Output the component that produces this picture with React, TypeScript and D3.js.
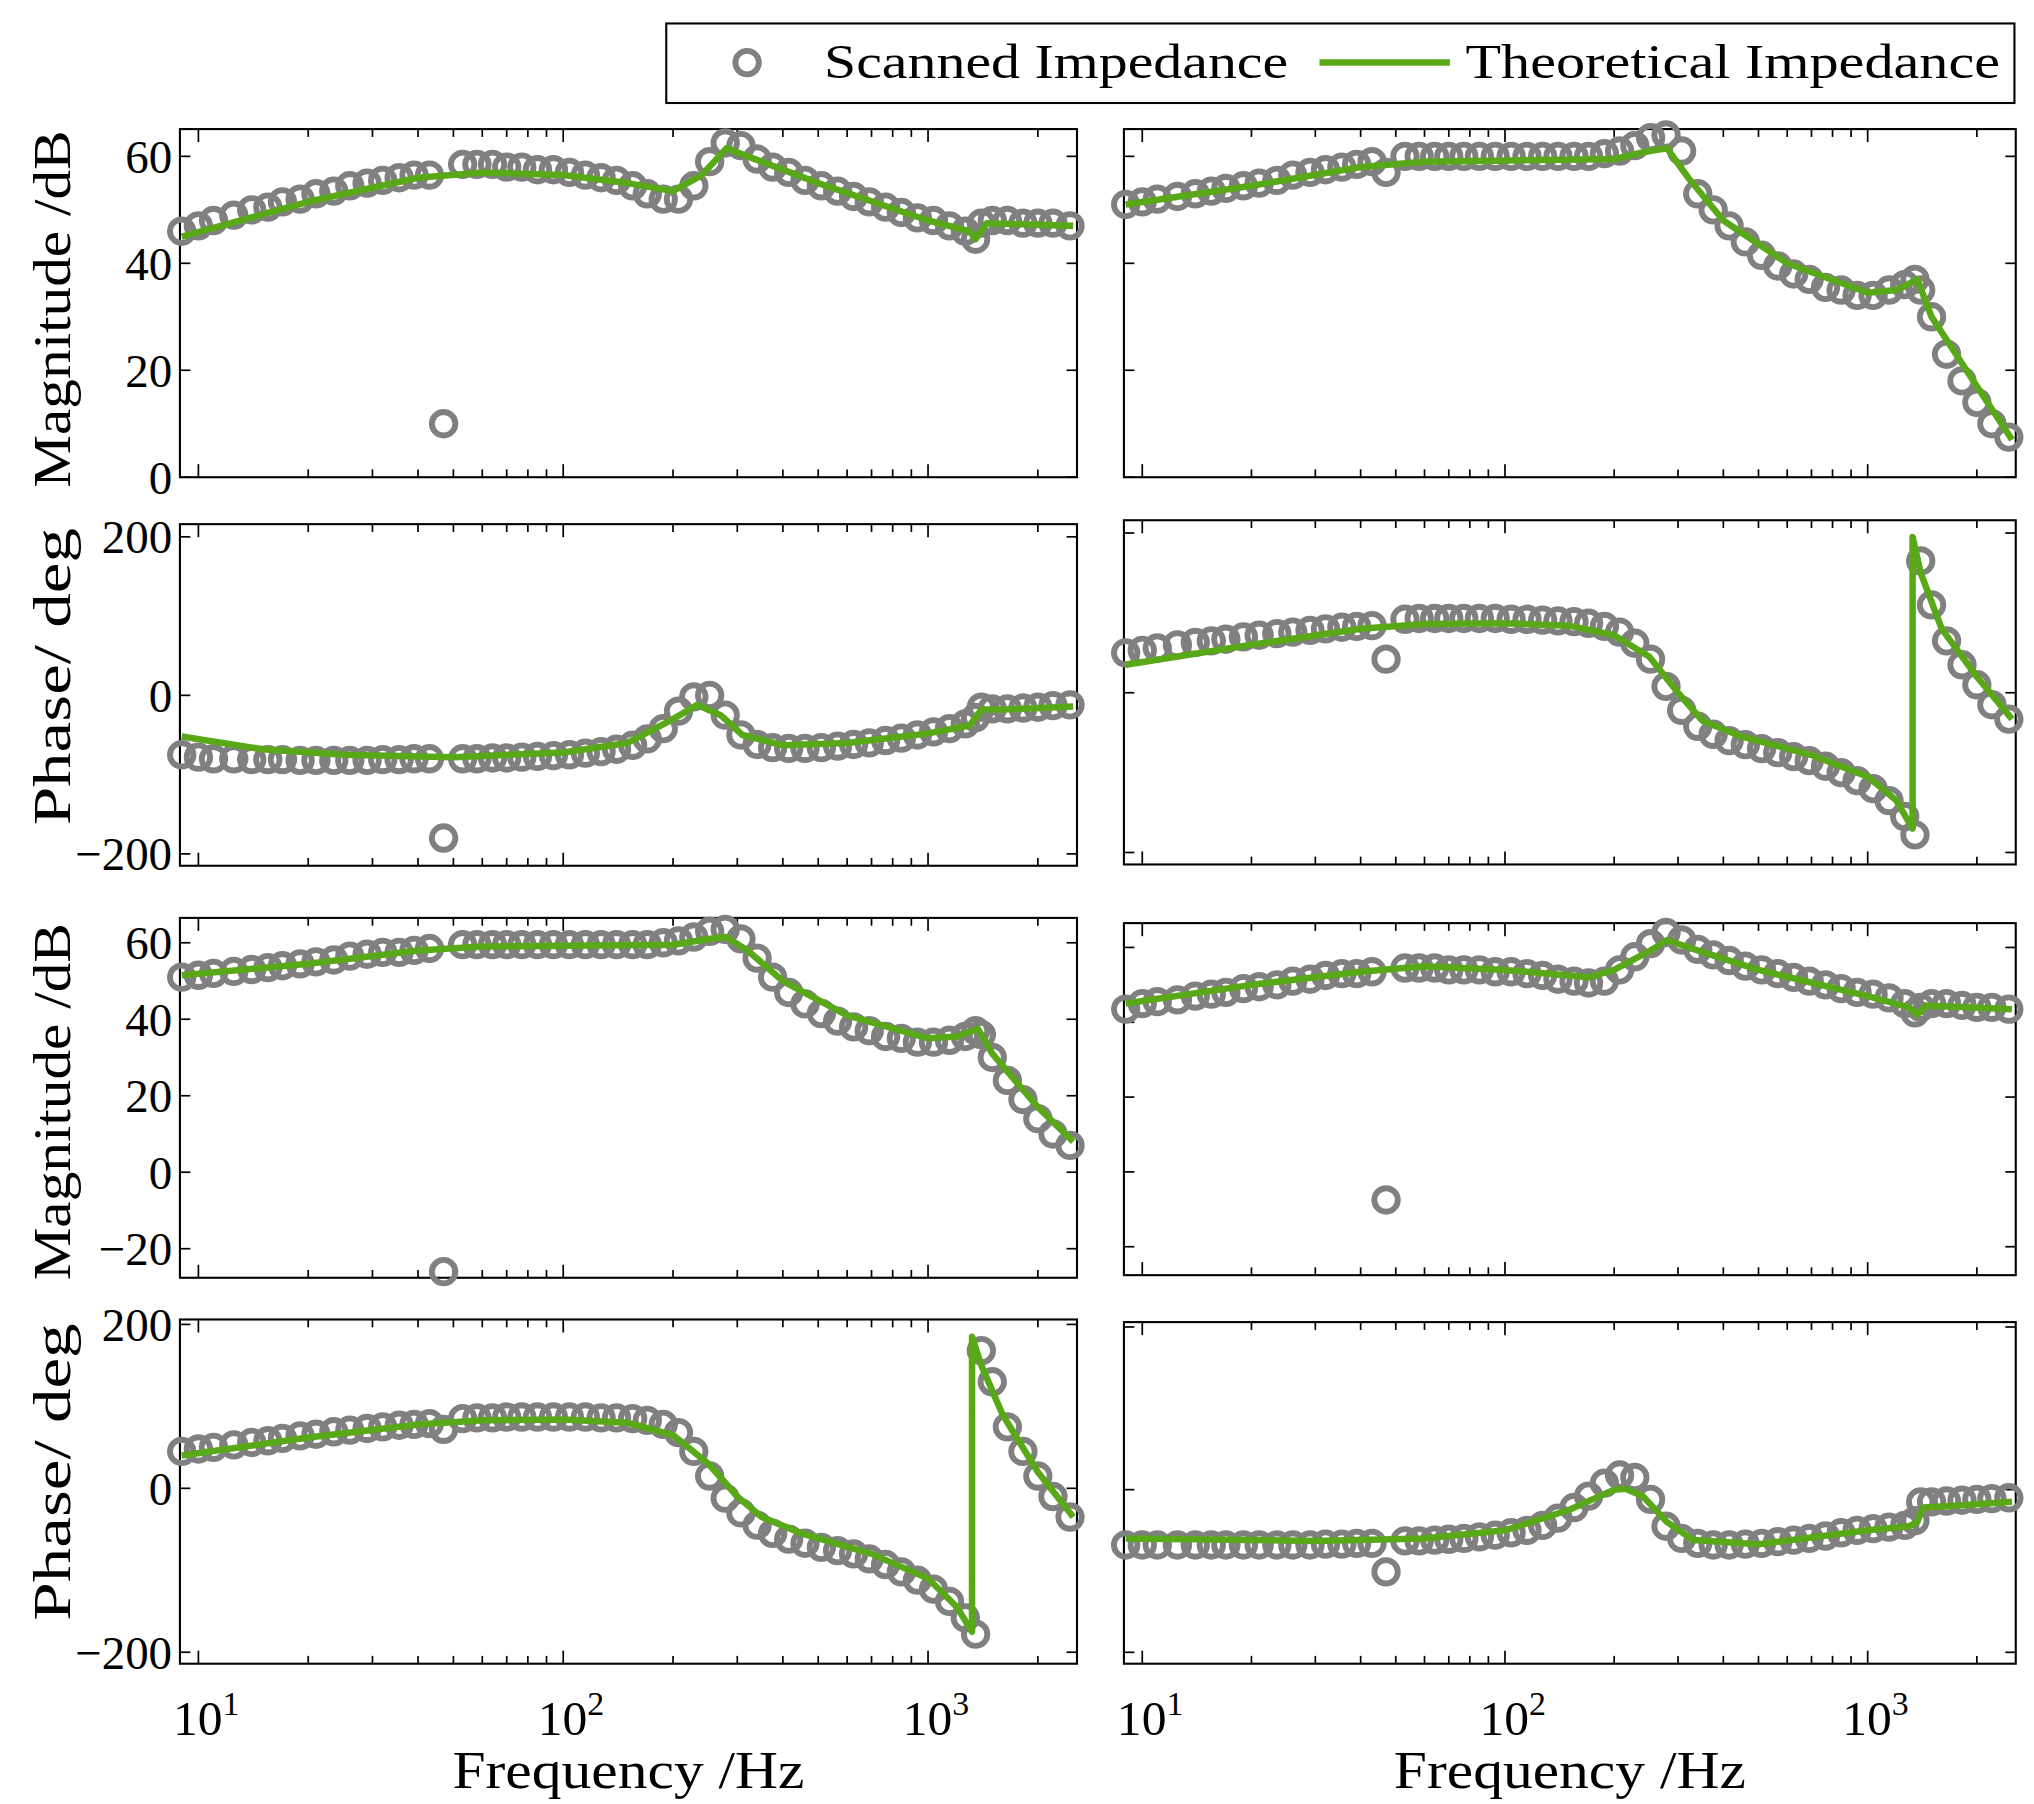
import React from "react";
import * as d3 from "d3";

const FREQ = [9,10,11,12.5,14,15.5,17,19,21,23.5,26,29,32,35.5,39,43,47,53,58,64,70,77,85,94,104,115,127,140,155,170,188,207,228,252,278,307,340,375,415,460,510,565,625,690,765,845,935,1035,1145,1265,1350,1400,1500,1650,1820,2000,2200,2450];

const scanA = [46,47,48,49,50,50.5,51.5,52,53,53.5,54.5,55,55.5,56,56.5,56.5,10,58.5,58.5,58.5,58,58,57.5,57.5,57,56.5,56,55.5,54.5,53,52,52,54.5,59,62.5,62,59.5,58,57,55.5,54.5,53.5,52.5,51.5,50.5,49.5,48.5,48,47,46,44.5,47.5,48,48,47.5,47.5,47.5,47];
const scanB = [-75,-78,-80,-80,-81,-81,-81,-82,-82,-82,-82,-82,-81,-81,-80,-80,-180,-80,-80,-79,-79,-78,-77,-76,-75,-73,-71,-68,-63,-55,-42,-20,-2,0,-25,-50,-62,-66,-67,-67,-66,-64,-62,-60,-57,-54,-50,-46,-42,-36,-28,-15,-17,-17,-16,-15,-13,-12];
const scanC = [51,51.5,52,52.5,53,53.5,54,54.5,55,55.5,56.5,57,57.5,57.5,58,58.5,-26,59.5,59.5,59.5,59.5,59.5,59.5,59.5,59.5,59.5,59.5,59.5,59.5,59.5,60,60.5,61.5,63,63.5,61,56,51,47,44,41.5,39.5,38,37,35.5,35,34,34,34.5,35.5,37,36,30,24,19,14,10,7];
const scanD = [45,48,50,53,56,58,61,64,66,69,71,73,75,77,78,79,72,85,86,86,87,87,87,87,87,87,86,86,85,83,78,68,45,15,-12,-30,-45,-55,-62,-67,-72,-76,-80,-86,-93,-102,-112,-123,-138,-158,-178,168,130,75,45,15,-10,-35];
const scanE = [51,51.5,52,52.5,53,53.5,54,54.5,55,55.5,56.5,57,57.5,58,58.5,59,57,60,60,60,60,60,60,60,60,60,60,60,60,60,60.5,61,62,63.5,64,61,53,50,47,44,41.5,39.5,38,37,35.5,35,34,34,35,36,37,35,30,23,18,14,10,7.5];
const scanF = [50,53,56,60,63,65,67,70,72,74,76,78,80,82,83,84,42,92,93,93,93,93,93,93,92,92,91,90,89,87,83,76,62,42,8,-22,-42,-52,-60,-65,-70,-75,-80,-85,-92,-100,-110,-120,-135,-155,-178,165,110,65,35,10,-15,-33];
const scanG = [43.5,45,45.5,46,47,47.5,48,49,49.5,50,51,51.5,52.5,53,53,53.5,-7.5,54.5,54.5,54.5,54,54,54,53.5,53.5,53,52.5,51.5,51,50.5,51,54,57.5,61,64,62,59.5,58,56.5,55,54,53,52,51,50,49,48,47.5,46.5,45,42.5,44,45,45,44.5,44,44,43.5];
const scanH = [-68,-68,-68,-68,-68,-68,-68,-68,-68,-68,-68,-68,-67,-67,-66,-66,-101,-63,-63,-62,-61,-60,-58,-56,-53,-50,-44,-35,-22,-8,8,18,15,-12,-45,-60,-66,-68,-68,-67,-66,-64,-62,-60,-57,-53,-50,-48,-46,-44,-38,-15,-15,-14,-13,-12,-11,-10];

const thFA = [9,20,40,60,100,150,200,240,280,320,500,1000,1300,1350,1450,2500];
const thVA = [45,51.5,56,57,56.5,55,53.5,56.5,61.5,60,55,48,46,44.5,47.5,47];
const thFB = [9,15,25,50,100,150,200,233,270,310,400,600,1000,1300,1400,1600,2500];
const thVB = [-52,-68,-75,-78,-72,-60,-30,-12,-25,-50,-63,-60,-48,-38,-18,-18,-14];
const thFC = [9,20,40,60,200,250,280,320,400,600,1000,1200,1370,1500,2000,2500];
const thVC = [51.5,54.5,58,59,59.5,61,61.5,58,50,41,35,35.5,37.5,31,17,8];
const thFD = [9,20,40,60,100,150,200,250,300,350,450,700,1000,1200,1320,1320,1400,1600,2000,2500];
const thVD = [40,62,78,83,84,80,65,30,-10,-35,-55,-80,-110,-145,-175,185,150,90,20,-35];
const thFE = [9,20,40,60,200,250,280,320,400,600,1000,1200,1370,1500,2000,2500];
const thVE = [51,54.5,58,59,59.5,61,61.5,56,48,40,34.5,35,37,30,17,7];
const thFF = [9,20,40,60,100,150,200,250,300,350,450,700,1000,1200,1330,1330,1400,1600,2000,2500];
const thVF = [35,60,80,86,87,84,72,45,0,-35,-55,-78,-105,-135,-170,195,150,80,20,-33];
const thFG = [9,20,40,60,100,170,200,250,280,320,500,1000,1300,1370,1450,2500];
const thVG = [45,50,53.5,55,54,52,54,59,62,60,54,47,44,42,44.5,43.5];
const thFH = [9,30,60,100,150,200,215,240,280,330,500,1000,1300,1370,1420,1700,2500];
const thVH = [-60,-63,-60,-50,-25,0,1,-8,-40,-62,-67,-50,-45,-40,-22,-20,-15];

const MAG_TICKS_1 = [0, 20, 40, 60];
const PH_TICKS = [-200, 0, 200];
const MAG_TICKS_3 = [-20, 0, 20, 40, 60];
const X_DOMAIN = [8.9, 2560];
const DECADES = [10, 100, 1000];

const GRAY = "#808080";
const GREEN = "#58a818";
const FONT = "'Liberation Serif', 'DejaVu Serif', serif";

type P = { x0: number; x1: number; y0: number; y1: number; dom: [number, number]; ticks: number[]; labels: boolean; scan: number[]; tf: number[]; tv: number[]; bottom: boolean };

const panels: P[] = [
  { x0: 138, x1: 826, y0: 99, y1: 366, dom: [0, 65.1], ticks: MAG_TICKS_1, labels: true, scan: scanA, tf: thFA, tv: thVA, bottom: false },
  { x0: 138, x1: 826, y0: 402, y1: 664, dom: [-215, 216], ticks: PH_TICKS, labels: true, scan: scanB, tf: thFB, tv: thVB, bottom: false },
  { x0: 138, x1: 826, y0: 704, y1: 980, dom: [-27.6, 66.5], ticks: MAG_TICKS_3, labels: true, scan: scanC, tf: thFC, tv: thVC, bottom: false },
  { x0: 138, x1: 826, y0: 1012, y1: 1276, dom: [-214, 206], ticks: PH_TICKS, labels: true, scan: scanD, tf: thFD, tv: thVD, bottom: true },
  { x0: 862, x1: 1546, y0: 99, y1: 366, dom: [0, 65.1], ticks: MAG_TICKS_1, labels: false, scan: scanE, tf: thFE, tv: thVE, bottom: false },
  { x0: 862, x1: 1546, y0: 399, y1: 663, dom: [-215, 216], ticks: PH_TICKS, labels: false, scan: scanF, tf: thFF, tv: thVF, bottom: false },
  { x0: 862, x1: 1546, y0: 708, y1: 978, dom: [-27.6, 66.5], ticks: MAG_TICKS_3, labels: false, scan: scanG, tf: thFG, tv: thVG, bottom: false },
  { x0: 862, x1: 1546, y0: 1014, y1: 1276, dom: [-214, 206], ticks: PH_TICKS, labels: false, scan: scanH, tf: thFH, tv: thVH, bottom: true },
];

const minorTicks: number[] = [];
DECADES.forEach((d) => { for (let k = 1; k <= 9; k++) minorTicks.push(d * k); });

function Panel({ p }: { p: P }) {
  const x = d3.scaleLog().domain(X_DOMAIN).range([p.x0, p.x1]);
  const y = d3.scaleLinear().domain(p.dom).range([p.y1, p.y0]);
  const line = d3.line<[number, number]>().x((d) => x(d[0])).y((d) => y(d[1]));
  const tl = p.tf.map((f, i) => [f, p.tv[i]] as [number, number]);
  const xt = minorTicks.filter((t) => t >= X_DOMAIN[0] && t <= X_DOMAIN[1]);
  return (
    <g>
      <rect x={p.x0} y={p.y0} width={p.x1 - p.x0} height={p.y1 - p.y0} fill="none" stroke="#000" strokeWidth={1.6} />
      {xt.map((t) => {
        const L = DECADES.includes(t) ? 10 : 6;
        return (
          <g key={t}>
            <line x1={x(t)} x2={x(t)} y1={p.y1} y2={p.y1 - L} stroke="#000" strokeWidth={1.3} />
            <line x1={x(t)} x2={x(t)} y1={p.y0} y2={p.y0 + L} stroke="#000" strokeWidth={1.3} />
          </g>
        );
      })}
      {p.ticks.map((t) => (
        <g key={t}>
          <line x1={p.x0} x2={p.x0 + 8} y1={y(t)} y2={y(t)} stroke="#000" strokeWidth={1.3} />
          <line x1={p.x1} x2={p.x1 - 8} y1={y(t)} y2={y(t)} stroke="#000" strokeWidth={1.3} />
          {p.labels && (
            <text x={p.x0 - 6} y={y(t)} dy="0.35em" textAnchor="end" fontSize={36} fontFamily={FONT}>
              {t < 0 ? "−" + Math.abs(t) : t}
            </text>
          )}
        </g>
      ))}
      {p.bottom && DECADES.map((t, i) => (
        <text key={t} x={x(t) + 6} y={p.y1 + 55} textAnchor="middle" fontSize={38} fontFamily={FONT}>
          10<tspan dy={-16} fontSize={26}>{i + 1}</tspan>
        </text>
      ))}
      {p.bottom && (
        <text x={(p.x0 + p.x1) / 2} y={p.y1 + 95} textAnchor="middle" fontSize={40} fontFamily={FONT} textLength={270} lengthAdjust="spacingAndGlyphs">Frequency /Hz</text>
      )}
      {FREQ.map((f, i) => (
        <circle key={i} cx={x(f)} cy={y(p.scan[i])} r={9} fill="none" stroke={GRAY} strokeWidth={4.5} />
      ))}
      <path d={line(tl) || ""} fill="none" stroke={GREEN} strokeWidth={5} strokeLinejoin="round" />
    </g>
  );
}

const yLabel = (cx: number, cy: number, txt: string, len: number) => (
  <text transform={`translate(${cx},${cy}) rotate(-90)`} textAnchor="middle" fontSize={40} fontFamily={FONT} textLength={len} lengthAdjust="spacingAndGlyphs">{txt}</text>
);

export default function App() {
  return (
    <svg width={2034} height={1804} viewBox="0 0 1560 1383.6" style={{ position: "absolute", left: 0, top: 0, background: "#fff" }}>
      <rect x={0} y={0} width={1560} height={1384} fill="#fff" />
      <rect x={511} y={18} width={1034} height={61} fill="#fff" stroke="#000" strokeWidth={1.6} />
      <circle cx={573} cy={48} r={9} fill="none" stroke={GRAY} strokeWidth={4.5} />
      <text x={632} y={60} fontSize={38} fontFamily={FONT} textLength={356} lengthAdjust="spacingAndGlyphs">Scanned Impedance</text>
      <line x1={1012} x2={1112} y1={48} y2={48} stroke={GREEN} strokeWidth={5} />
      <text x={1124} y={60} fontSize={38} fontFamily={FONT} textLength={410} lengthAdjust="spacingAndGlyphs">Theoretical Impedance</text>
      {panels.map((p, i) => <Panel key={i} p={p} />)}
      {yLabel(54, 237, "Magnitude /dB", 274)}
      {yLabel(54, 519, "Phase/ deg", 228)}
      {yLabel(54, 845, "Magnitude /dB", 274)}
      {yLabel(54, 1129, "Phase/ deg", 228)}
    </svg>
  );
}
